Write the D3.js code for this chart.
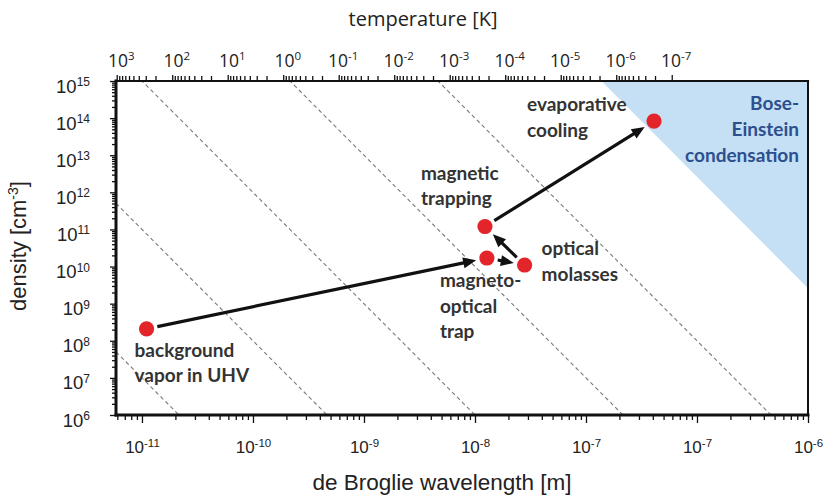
<!DOCTYPE html>
<html>
<head>
<meta charset="utf-8">
<script src="https://cdn.jsdelivr.net/npm/d3@7"></script>
<style>
  body { margin: 0; background: #fff; }
  svg { display: block; }
</style>
</head>
<body>
<svg id="chart" width="829" height="496"></svg>
<script>
// ---- axis ticks -------------------------------------------------------
// de Broglie wavelength (m): tick positions and the exponents printed under them
const lambdaTicks = [1e-11, 1e-10, 1e-9, 1e-8, 1e-7, 1e-6, 1e-5];
const lambdaTickExp = ["-11", "-10", "-9", "-8", "-7", "-7", "-6"];
// density (cm^-3)
const densityTicks = [1e6, 1e7, 1e8, 1e9, 1e10, 1e11, 1e12, 1e13, 1e14, 1e15];
const densityTickExp = ["6", "7", "8", "9", "10", "11", "12", "13", "14", "15"];
// temperature (K)
const tempTicks = [1e3, 1e2, 1e1, 1e0, 1e-1, 1e-2, 1e-3, 1e-4, 1e-5, 1e-6, 1e-7];
const tempTickExp = ["3", "2", "1", "0", "-1", "-2", "-3", "-4", "-5", "-6", "-7"];

// ---- cooling stages -----------------------------------------------------
const stageNames = ["background vapor in UHV", "magneto-optical trap", "optical molasses",
                    "magnetic trapping", "evaporative cooling"];
const stageWavelength = [1.1e-11, 1.28e-8, 2.8e-8, 1.23e-8, 4.1e-7];   // m
const stageDensity = [2.1e8, 1.7e10, 1.1e10, 1.2e11, 8.3e13];        // cm^-3
const stageLabelLines = [
  ["background", "vapor in UHV"],
  ["magneto-", "optical", "trap"],
  ["optical", "molasses"],
  ["magnetic", "trapping"],
  ["evaporative", "cooling"]
];
const transitions = [[0, 1], [1, 2], [2, 3], [3, 4]];

// ---- iso phase-space-density lines (n·λ³, n in m^-3) ------------------
const psdLevels = [1e-20, 1e-16, 1e-12, 1e-8, 1e-4];
const psdBEC = 2.612;
const becLabelLines = ["Bose-", "Einstein", "condensation"];

// ======================================================================
const plot = { left: 116, right: 808, top: 81, bottom: 415 };
const svg = d3.select("#chart");

const x = d3.scaleLog().domain([Math.pow(10, -11.234), 1e-5]).range([plot.left, plot.right]);
const y = d3.scaleLog().domain([1e6, 1e15]).range([plot.bottom, plot.top]);

// thermal de Broglie wavelength of 87Rb -> temperature
const hPlanck = 6.626e-34, kB = 1.381e-23, mRb = 1.443e-25;
const tempOf = l => (hPlanck * hPlanck) / (2 * Math.PI * mRb * kB * l * l);
const t = d3.scaleLog().domain(x.domain().map(tempOf)).range(x.range());

// density (cm^-3) on an iso-PSD line at wavelength l
const densityOn = (psd, l) => psd / (1e6 * l * l * l);

function minorTicks(lo, hi) {
  const out = [];
  for (let e = Math.floor(Math.log10(lo)) - 1; e <= Math.ceil(Math.log10(hi)); e++) {
    for (let k = 2; k <= 9; k++) {
      const v = k * Math.pow(10, e);
      if (v > lo * 1.0001 && v < hi * 0.9999) out.push(v);
    }
  }
  return out;
}

svg.append("defs").append("clipPath").attr("id", "plotClip")
  .append("rect")
  .attr("x", plot.left).attr("y", plot.top)
  .attr("width", plot.right - plot.left).attr("height", plot.bottom - plot.top);

const inner = svg.append("g").attr("clip-path", "url(#plotClip)");

// BEC region
const [lMin, lMax] = x.domain();
const nMax = y.domain()[1];
const lTop = Math.cbrt(psdBEC / (1e6 * nMax));
inner.append("path")
  .attr("d", d3.line()([
    [x(lTop), y(nMax)],
    [x(lMax), y(nMax)],
    [x(lMax), y(densityOn(psdBEC, lMax))]
  ]) + "Z")
  .attr("fill", "#c5dff4");

// dashed iso-PSD lines
inner.selectAll("line.iso").data(psdLevels).join("line")
  .attr("class", "iso")
  .attr("x1", x(lMin)).attr("y1", d => y(densityOn(d, lMin)))
  .attr("x2", x(lMax)).attr("y2", d => y(densityOn(d, lMax)))
  .attr("stroke", "#7a7a7a").attr("stroke-width", 1.1)
  .attr("stroke-dasharray", "4,3");

// ---- axes ----------------------------------------------------------------
function styleAxis(g) {
  g.select(".domain").remove();
  g.selectAll(".tick line").attr("stroke", "#111").attr("stroke-width", 1.3);
}
function supLabels(g, exps, opts) {
  g.selectAll(".tick text").each(function (d, i) {
    const tx = d3.select(this).text(null)
      .attr("x", opts.dx).attr("y", opts.dy).attr("dy", null)
      .attr("text-anchor", opts.anchor)
      .attr("font-family", opts.family)
      .attr("fill", "#222");
    tx.append("tspan").attr("font-size", opts.base).text("10");
    tx.append("tspan").attr("font-size", opts.sup).attr("dy", -opts.raise).text(exps[i]);
  });
}

// bottom: wavelength
svg.append("g").attr("transform", `translate(0,${plot.bottom})`)
  .call(d3.axisBottom(x).tickValues(minorTicks(lMin, lMax)).tickSize(5).tickFormat(() => ""))
  .call(styleAxis);
svg.append("g").attr("transform", `translate(0,${plot.bottom})`)
  .call(d3.axisBottom(x).tickValues(lambdaTicks).tickSize(8).tickSizeOuter(0))
  .call(styleAxis)
  .call(g => supLabels(g, lambdaTickExp, { dx: 0, dy: 38, anchor: "middle",
    family: "'Liberation Sans', Arial, sans-serif", base: 17, sup: 11.5, raise: 6 }));

// left: density
svg.append("g").attr("transform", `translate(${plot.left},0)`)
  .call(d3.axisLeft(y).tickValues(minorTicks(1e6, 1e15)).tickSize(4).tickFormat(() => ""))
  .call(styleAxis);
svg.append("g").attr("transform", `translate(${plot.left},0)`)
  .call(d3.axisLeft(y).tickValues(densityTicks).tickSize(6).tickSizeOuter(0))
  .call(styleAxis)
  .call(g => supLabels(g, densityTickExp, { dx: -26, dy: 11, anchor: "end",
    family: "'Liberation Sans', Arial, sans-serif", base: 18.5, sup: 12, raise: 6.5 }));

// top: temperature
svg.append("g").attr("transform", `translate(0,${plot.top - 1})`)
  .call(d3.axisTop(t).tickValues(minorTicks(1e-7, 1e3)).tickSize(4).tickFormat(() => ""))
  .call(styleAxis);
svg.append("g").attr("transform", `translate(0,${plot.top - 1})`)
  .call(d3.axisTop(t).tickValues(tempTicks).tickSize(5).tickSizeOuter(0))
  .call(styleAxis)
  .call(g => supLabels(g, tempTickExp, { dx: 4, dy: -13, anchor: "middle",
    family: "'Open Sans', sans-serif", base: 17.5, sup: 11.5, raise: 7 }));

// frame
const frame = svg.append("g").attr("stroke", "#111").attr("stroke-linecap", "square");
frame.append("line").attr("x1", plot.left).attr("y1", plot.top).attr("x2", plot.right).attr("y2", plot.top).attr("stroke-width", 2.2);
frame.append("line").attr("x1", plot.right).attr("y1", plot.top).attr("x2", plot.right).attr("y2", plot.bottom).attr("stroke-width", 2);
frame.append("line").attr("x1", plot.left).attr("y1", plot.bottom).attr("x2", plot.right).attr("y2", plot.bottom).attr("stroke-width", 3);
frame.append("line").attr("x1", plot.left).attr("y1", plot.top).attr("x2", plot.left).attr("y2", plot.bottom).attr("stroke-width", 3);

// axis titles
svg.append("text").attr("x", 423).attr("y", 26).attr("text-anchor", "middle")
  .attr("font-family", "'Open Sans', sans-serif").attr("font-size", 20).attr("fill", "#222")
  .text("temperature [K]");
svg.append("text").attr("x", 442).attr("y", 490).attr("text-anchor", "middle")
  .attr("font-family", "'Liberation Sans', Arial, sans-serif").attr("font-size", 22.5).attr("fill", "#222")
  .text("de Broglie wavelength [m]");
const yTitle = svg.append("text").attr("transform", "translate(26,246) rotate(-90)")
  .attr("text-anchor", "middle")
  .attr("font-family", "'Liberation Sans', Arial, sans-serif").attr("font-size", 22).attr("fill", "#222");
yTitle.append("tspan").text("density [cm");
yTitle.append("tspan").attr("font-size", 14).attr("dy", -8).text("-3");
yTitle.append("tspan").attr("dy", 8).text("]");

// ---- arrows between stages ---------------------------------------------
const pts = stageNames.map((name, i) => ({ name, px: x(stageWavelength[i]), py: y(stageDensity[i]) }));
const arrowG = svg.append("g");
const gapStart = 11, gapEnd = 11, headLen = 13, headHalf = 5.5;
transitions.forEach(([a, b]) => {
  const A = pts[a], B = pts[b];
  const dx = B.px - A.px, dy = B.py - A.py, len = Math.hypot(dx, dy);
  const ux = dx / len, uy = dy / len;
  const sx = A.px + ux * gapStart, sy = A.py + uy * gapStart;
  const tx = B.px - ux * gapEnd, ty = B.py - uy * gapEnd;
  const bx = tx - ux * headLen, by = ty - uy * headLen;
  arrowG.append("line")
    .attr("x1", sx).attr("y1", sy)
    .attr("x2", tx - ux * headLen * 0.6).attr("y2", ty - uy * headLen * 0.6)
    .attr("stroke", "#111").attr("stroke-width", 3.2);
  arrowG.append("path")
    .attr("d", d3.line()([[tx, ty], [bx - uy * headHalf, by + ux * headHalf], [bx + uy * headHalf, by - ux * headHalf]]) + "Z")
    .attr("fill", "#111");
});

// stage markers
svg.append("g").selectAll("circle").data(pts).join("circle")
  .attr("cx", d => d.px).attr("cy", d => d.py).attr("r", 7.6)
  .attr("fill", "#e3242b");

// stage labels (first-line baseline offset from the marker)
const labelOffsets = [[-12, 28], [-47, 29], [17, -10], [-64, -47], [-127, -10]];
const lineGap = 25.5;
const labelG = svg.append("g")
  .attr("font-family", "Lato, 'Open Sans', sans-serif").attr("font-weight", 700)
  .attr("font-size", 19).attr("fill", "#333");
pts.forEach((p, i) => {
  const txt = labelG.append("text")
    .attr("x", p.px + labelOffsets[i][0]).attr("y", p.py + labelOffsets[i][1]);
  stageLabelLines[i].forEach((line, j) => {
    txt.append("tspan").attr("x", p.px + labelOffsets[i][0]).attr("dy", j === 0 ? 0 : lineGap).text(line);
  });
});

// BEC label
const becText = svg.append("text")
  .attr("x", 799).attr("y", 110).attr("text-anchor", "end")
  .attr("font-family", "Lato, 'Open Sans', sans-serif").attr("font-weight", 700)
  .attr("font-size", 19).attr("fill", "#2c4f8e");
becLabelLines.forEach((line, j) => {
  becText.append("tspan").attr("x", 799).attr("dy", j === 0 ? 0 : 26).text(line);
});
</script>
</body>
</html>
